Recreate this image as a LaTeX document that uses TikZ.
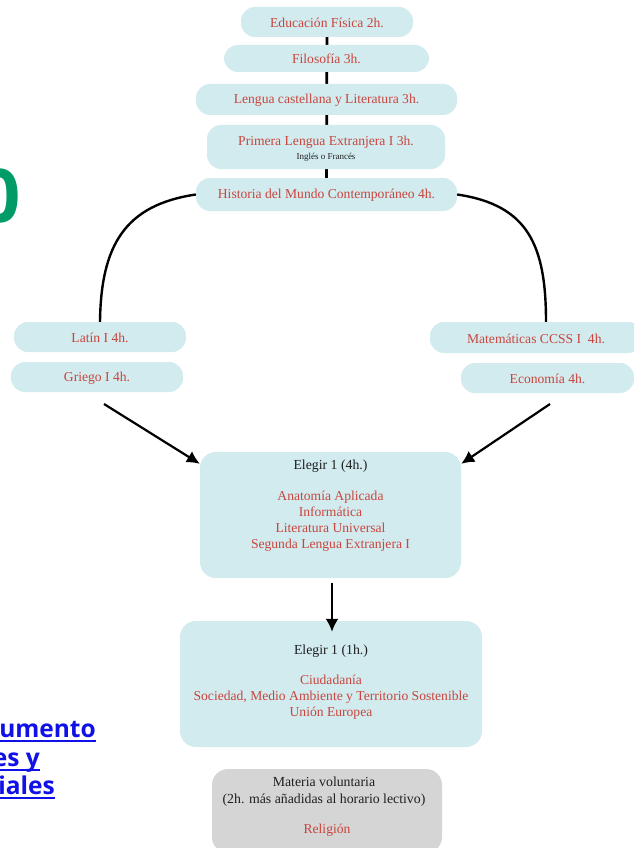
\documentclass[tikz,border=0pt]{standalone}
\usepackage{fontspec}
\setmainfont{Liberation Serif}
\newfontfamily\osans{Open Sans}
\usetikzlibrary{backgrounds,calc,arrows.meta}
\definecolor{boxfill}{HTML}{D2EBEF}
\definecolor{boxgray}{HTML}{D5D5D5}
\definecolor{redtxt}{HTML}{C9453D}
\definecolor{darktxt}{HTML}{1E1E1E}
\definecolor{greentxt}{HTML}{009B66}
\definecolor{linkblue}{HTML}{1010E8}
\tikzset{
  pill/.style={fill=boxfill, rounded corners=14pt, inner sep=0pt},
  bigbox/.style={fill=boxfill, rounded corners=16pt, inner sep=0pt},
  graybox/.style={fill=boxgray, rounded corners=16pt, inner sep=0pt},
  redlbl/.style={text=redtxt, font=\fontsize{13.6}{15.9}\selectfont, inner sep=0pt, align=center},
  darklbl/.style={text=darktxt, font=\fontsize{13.8}{16.8}\selectfont, inner sep=0pt, align=center},
  conn/.style={draw=black, line width=2.8pt},
  curve/.style={draw=black, line width=2.4pt},
  arr/.style={draw=black, line width=2.2pt, -{Latex[length=13pt,width=13pt]}},
  linktxt/.style={text=linkblue, font=\osans\bfseries\fontsize{24.5}{28}\selectfont, inner sep=0pt, anchor=base east},
  ul/.style={draw=linkblue, line width=2pt}
}
\begin{document}
\begin{tikzpicture}[x=1pt,y=-1pt]
\useasboundingbox (0,0) rectangle (634,848);
\clip (0,0) rectangle (634,848);

% top column of pills
\node[pill, minimum width=172pt, minimum height=30pt] (edu) at (327,22) {};
\node[pill, minimum width=205pt, minimum height=27pt] (filo) at (326.5,58.5) {};
\node[pill, minimum width=261pt, minimum height=31pt] (lengua) at (326.5,99.5) {};
\node[pill, minimum width=238pt, minimum height=44pt] (primera) at (326,147) {};
\node[pill, minimum width=261pt, minimum height=33pt] (historia) at (326.5,194.5) {};

\node[redlbl] (tedu) at (327,23) {Educación Física 2h.};
\node[redlbl] (tfilo) at (326.5,59) {Filosofía 3h.};
\node[redlbl] (tlengua) at (326.5,100) {Lengua castellana y Literatura 3h.};
\node[redlbl] (tprimera) at (326,142) {Primera Lengua Extranjera I 3h.};
\node[text=darktxt, font=\fontsize{9}{10}\selectfont, inner sep=0pt] (tingles) at (326,157.5) {Inglés o Francés};
\node[redlbl] (thistoria) at (326.5,195) {Historia del Mundo Contemporáneo 4h.};

\begin{scope}[on background layer]
  \fill[white] (0,0) rectangle (634,848);
  \draw[conn] ([yshift=-2pt]edu.north) -- (historia.center);
\end{scope}

% side pills
\node[pill, minimum width=172pt, minimum height=30pt] (latin) at (100,337) {};
\node[pill, minimum width=172pt, minimum height=30pt] (griego) at (97,377) {};
\node[pill, minimum width=212pt, minimum height=31pt] (mate) at (536,337.5) {};
\node[pill, minimum width=173pt, minimum height=30pt] (eco) at (547.5,378) {};

\node[redlbl] (tlatin) at (100,338) {Latín I 4h.};
\node[redlbl] (tgriego) at (97,378) {Griego I 4h.};
\node[redlbl] (tmate) at (536,338.5) {Matemáticas CCSS I\ \ 4h.};
\node[redlbl] (teco) at (547.5,379) {Economía 4h.};

% curves
\draw[curve] (historia.west) .. controls (125,205) and (101,245) .. (latin.north);
\draw[curve] (historia.east) .. controls (528,205) and (546,245) .. ([xshift=10pt]mate.north);

% Elegir 1 (4h.)
\node[bigbox, minimum width=261pt, minimum height=126pt] (elegir4) at (330.5,515) {};
\node[darklbl] (telegir4) at (330.5,466) {Elegir 1 (4h.)};
\node[redlbl] (lelegir4) at (330.5,521) {Anatomía Aplicada\\Informática\\Literatura Universal\\Segunda Lengua Extranjera I};

\coordinate (la) at (104,404);
\coordinate (ra) at (550,404);
\draw[arr] (la) -- ([yshift=-12pt]elegir4.north west);
\draw[arr] (ra) -- ([yshift=-12pt]elegir4.north east);

% Elegir 1 (1h.)
\node[bigbox, minimum width=302pt, minimum height=126pt] (elegir1) at (331,684) {};
\node[darklbl] (telegir1) at (331,651) {Elegir 1 (1h.)};
\node[redlbl] (lelegir1) at (331,697.5) {Ciudadanía\\Sociedad, Medio Ambiente y Territorio Sostenible\\Unión Europea};

\draw[arr] ([yshift=-5pt,xshift=1.5pt]elegir4.south) -- ([yshift=-11pt,xshift=1pt]elegir1.north);

% Materia voluntaria
\node[graybox, minimum width=230pt, minimum height=84pt] (materia) at (327,811) {};
\node[darklbl] (tmateria) at (324,791.5) {Materia voluntaria\\(2h. más añadidas al horario lectivo)};
\node[redlbl] (trelig) at (327,830) {Religión};

% cut-off texts on the left
\node[text=greentxt, font=\osans\bfseries\fontsize{74}{80}\selectfont, inner sep=0pt, anchor=base east] (zero) at (21,222) {0};
\node[linktxt] (u1) at (96,737) {umento};
\node[linktxt] (u2) at (40,766) {es y};
\node[linktxt] (u3) at (55,794) {iales};
\draw[ul] ([yshift=-4pt]u1.base west) -- ([yshift=-4pt]u1.base east);
\draw[ul] ([yshift=-4pt]u2.base west) -- ([yshift=-4pt]u2.base east);
\draw[ul] ([yshift=-4pt]u3.base west) -- ([yshift=-4pt]u3.base east);
\end{tikzpicture}
\end{document}
